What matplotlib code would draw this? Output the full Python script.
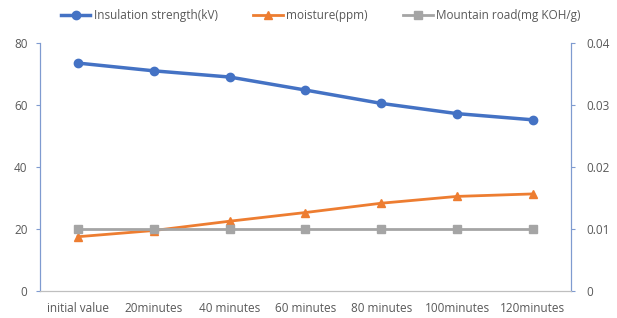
import matplotlib
matplotlib.use("Agg")
import matplotlib.pyplot as plt

plt.rcParams['font.family'] = ['Open Sans', 'DejaVu Sans']

# data
categories = ['initial value', '20minutes', '40 minutes', '60 minutes',
              '80 minutes', '100minutes', '120minutes']
insulation = [73.5, 71.0, 69.0, 64.8, 60.5, 57.2, 55.2]
moisture = [17.5, 19.5, 22.5, 25.3, 28.3, 30.5, 31.3]
mountain_road = [0.01, 0.01, 0.01, 0.01, 0.01, 0.01, 0.01]

left_ticks = [0, 20, 40, 60, 80]
right_ticks = [0, 0.01, 0.02, 0.03, 0.04]
right_labels = ['0', '0.01', '0.02', '0.03', '0.04']

blue = '#4472C4'
orange = '#ED7D31'
gray = '#A5A5A5'
spine_blue = '#7F9BD0'
text_gray = '#595959'

fig = plt.figure(figsize=(6.17, 3.18), dpi=100)
ax = fig.add_axes([0.065, 0.085, 0.86, 0.78])
ax2 = ax.twinx()

x = range(len(categories))
l1, = ax.plot(x, insulation, color=blue, lw=2.5, marker='o', ms=6,
              label='Insulation strength(kV)')
l2, = ax.plot(x, moisture, color=orange, lw=2, marker='^', ms=6,
              label='moisture(ppm)')
l3, = ax2.plot(x, mountain_road, color=gray, lw=2, marker='s', ms=6,
               label='Mountain road(mg KOH/g)')

ax.set_xlim(-0.5, len(categories) - 0.5)
ax.set_ylim(0, 80)
ax.set_yticks(left_ticks)
ax2.set_ylim(0, 0.04)
ax2.set_yticks(right_ticks)
ax2.set_yticklabels(right_labels)
ax.set_xticks(list(x))
ax.set_xticklabels(categories)

for a in (ax, ax2):
    a.spines['top'].set_visible(False)
    a.spines['left'].set_color(spine_blue)
    a.spines['right'].set_color(spine_blue)
    a.spines['bottom'].set_color('#BFBFBF')
    a.tick_params(labelsize=8.5, labelcolor=text_gray)
ax.tick_params(axis='y', color=spine_blue, length=3, pad=6)
ax2.tick_params(axis='y', color=spine_blue, length=3, pad=8)
ax.tick_params(axis='x', length=0, pad=8)

fig.legend(handles=[l1, l2, l3], loc='upper center', ncol=3, frameon=False,
           fontsize=8.5, bbox_to_anchor=(0.52, 1.005), handlelength=2.5,
           handletextpad=0.3, columnspacing=3.0, labelcolor=text_gray)

fig.savefig('out.png', dpi=100)
